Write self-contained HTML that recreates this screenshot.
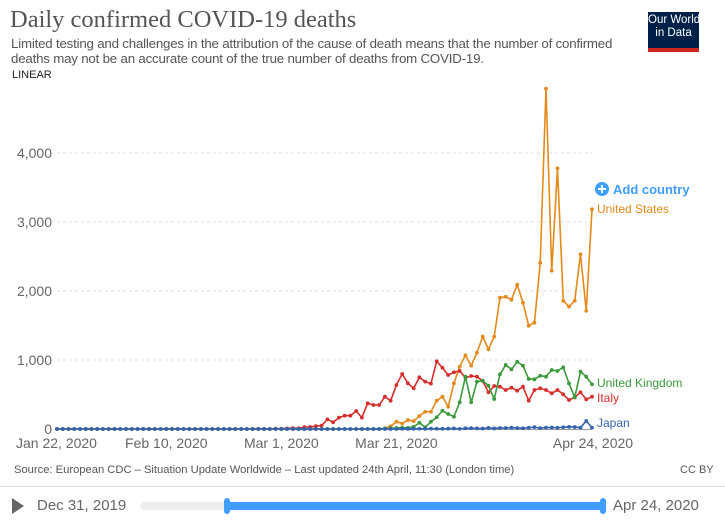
<!DOCTYPE html>
<html><head><meta charset="utf-8"><style>
body{margin:0;width:725px;height:526px;background:#fff;font-family:"Liberation Sans",sans-serif;overflow:hidden;position:relative}
.a{position:absolute;white-space:nowrap}
</style></head><body>
<div class="a" style="left:10px;top:6px;font-family:'Liberation Serif',serif;font-size:24.5px;color:#555">Daily confirmed COVID-19 deaths</div>
<div class="a" style="left:11px;top:37px;font-size:13.3px;line-height:14.5px;color:#555;letter-spacing:-0.2px">Limited testing and challenges in the attribution of the cause of death means that the number of confirmed<br>deaths may not be an accurate count of the true number of deaths from COVID-19.</div>
<div class="a" style="left:12px;top:69px;font-size:11px;color:#222">LINEAR</div>
<div class="a" style="left:648px;top:12px;width:51px;height:34px;background:#002147;border-bottom:4px solid #ce261e;color:#fff;font-size:11.5px;line-height:13px;text-align:center;padding-top:2px;box-sizing:content-box">Our World<br>in Data</div>
<svg id="chart" class="a" style="left:0;top:0" width="725" height="480"></svg>
<div class="a" style="left:14px;top:464px;font-size:11.2px;color:#555">Source: European CDC – Situation Update Worldwide – Last updated 24th April, 11:30 (London time)</div>
<div class="a" style="left:680px;top:464px;font-size:11px;color:#555">CC BY</div>
<div class="a" style="left:0;top:486px;width:725px;height:1px;background:#e2e2e2"></div>
<div class="a" style="left:12px;top:498px;width:0;height:0;border-left:12px solid #666;border-top:8px solid transparent;border-bottom:8px solid transparent"></div>
<div class="a" style="left:37px;top:497px;font-size:15px;color:#666">Dec 31, 2019</div>
<div class="a" style="left:140px;top:502px;width:465px;height:8px;border-radius:4px;background:#eee"></div>
<div class="a" style="left:227px;top:502px;width:378px;height:8px;border-radius:4px;background:#3f9eff"></div>
<div class="a" style="left:224px;top:498px;width:6px;height:16px;border-radius:3px;background:#3f9eff"></div>
<div class="a" style="left:600px;top:498px;width:6px;height:16px;border-radius:3px;background:#3f9eff"></div>
<div class="a" style="left:613px;top:497px;font-size:15px;color:#666">Apr 24, 2020</div>
<script>
const days=94;
const yTicks=[0,1000,2000,3000,4000];
const yTickLabels=["0","1,000","2,000","3,000","4,000"];
const xTickDays=[0,19,39,59,93];
const xTickLabels=["Jan 22, 2020","Feb 10, 2020","Mar 1, 2020","Mar 21, 2020","Apr 24, 2020"];
function z(n){return Array(n).fill(0);}
const usValues=z(57).concat([10,40,106,80,130,115,188,250,250,410,468,323,662,903,1068,918,1106,1338,1155,1338,1903,1917,1874,2091,1830,1497,1541,2410,4932,2294,3778,1859,1773,1859,2532,1714,3184]);
const italyValues=z(31).concat([1,1,0,2,4,3,2,5,4,8,12,11,27,28,41,49,140,97,164,193,193,261,164,372,348,348,468,410,638,797,662,590,749,686,657,981,888,783,822,841,744,768,758,696,532,623,613,565,599,555,613,410,565,590,565,517,565,503,420,459,532,430,468]);
const ukValues=z(55).concat([1,2,5,10,14,20,16,33,91,25,106,170,265,217,178,387,758,387,686,700,628,435,793,928,865,975,917,725,720,772,758,855,841,894,662,459,831,758,648]);
const japanValues=z(60).concat([2,1,3,4,2,5,4,3,5,8,2,10,12,9,6,16,8,15,14,20,13,11,18,27,13,20,22,18,25,30,28,20,116,20]);
const series=[["us",usValues,"#e38a1a"],["italy",italyValues,"#d62d2d"],["uk",ukValues,"#3a9a3a"],["japan",japanValues,"#3563b0"]];
const X0=57,X1=592,Y0=429,PX=0.069;
function xs(d){return X0+(X1-X0)*d/(days-1);}
function ys(v){return Y0-v*PX;}
const svg=document.getElementById('chart'),NS="http://www.w3.org/2000/svg";
function mk(t,a){const e=document.createElementNS(NS,t);for(const k in a)e.setAttribute(k,a[k]);svg.appendChild(e);return e;}
yTicks.forEach((v,i)=>{
 if(v>0){const g=mk('line',{x1:X0,x2:X1,y1:ys(v),y2:ys(v),stroke:'#ddd','stroke-dasharray':'3,3'});
 
 }
 const t=mk('text',{x:52,y:ys(v)+5,'text-anchor':'end','font-size':14,fill:'#666','font-family':'Liberation Sans'});
 t.textContent=yTickLabels[i];
 
 
});
xTickDays.forEach((d,i)=>{
 const t=mk('text',{x:xs(d),y:448,'text-anchor':i==0?'start':'middle','font-size':14,fill:'#666','font-family':'Liberation Sans'});
 if(i==0)t.setAttribute('x',16);
 if(i==4)t.setAttribute('x',xs(d)+1);
 t.textContent=xTickLabels[i];
 
 
});
const ax=mk('line',{x1:X0,x2:X1,y1:Y0+0.5,y2:Y0+0.5,stroke:'#999'});


series.forEach(([n,vals,c])=>{
 const p=mk('polyline',{points:vals.map((v,d)=>xs(d)+','+ys(v)).join(' '),fill:'none',stroke:c,'stroke-width':1.6});
 
 
 vals.forEach((v,d)=>{const m=mk('circle',{cx:xs(d),cy:ys(v),r:1.9,fill:c});
 
 });
});
const labels=[["United States",213,"#e38a1a","legend-united-states"],["United Kingdom",387,"#3a9a3a","legend-united-kingdom"],["Italy",402,"#d62d2d","legend-italy"],["Japan",427,"#3563b0","legend-japan"]];
labels.forEach(([t,y,c,nm])=>{const e=mk('text',{x:597,y:y,'font-size':12,fill:c,'font-family':'Liberation Sans'});e.textContent=t;
 
 });
const ac=mk('circle',{cx:602,cy:189,r:7,fill:'#3f9eff'});


mk('path',{d:'M598 189h8M602 185v8',stroke:'#fff','stroke-width':2});
const at=mk('text',{x:613,y:194,'font-size':13,'font-weight':'bold',fill:'#3f9eff','font-family':'Liberation Sans'});
at.textContent='Add country';


</script>
</body></html>
